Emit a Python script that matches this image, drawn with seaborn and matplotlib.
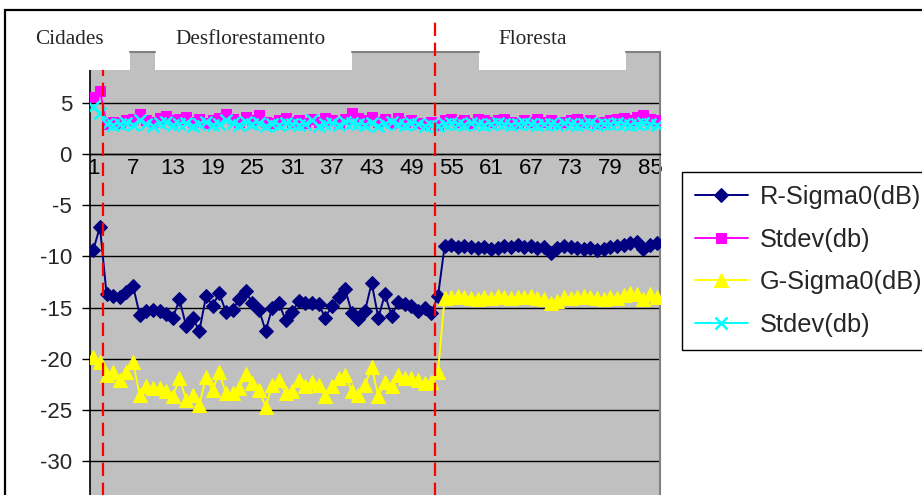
import numpy as np
import pandas as pd
import matplotlib
matplotlib.use("Agg")
import matplotlib.pyplot as plt
from matplotlib.patches import Rectangle
import seaborn as sns

# ---- data -------------------------------------------------------------
samples = list(range(1, 87))

r_sigma0 = [
    -9.35, -7.1,
    -13.7, -13.9, -14.0, -13.5, -12.9, -15.7, -15.3, -15.2, -15.3, -15.6,
    -16.0, -14.2, -16.8, -16.0, -17.3, -13.9, -14.8, -13.6, -15.4, -15.2,
    -14.2, -13.4, -14.6, -15.2, -17.3, -15.0, -14.6, -16.2, -15.4, -14.4,
    -14.6, -14.6, -14.7, -16.0, -14.8, -14.0, -13.2, -15.5, -16.1, -15.3,
    -12.6, -16.0, -13.7, -15.8, -14.5, -14.7, -14.8, -15.3, -15.0, -15.5,
    -13.9,
    -9.0, -8.9, -9.1, -9.0, -9.1, -9.2, -9.1, -9.3, -9.2, -9.0,
    -9.1, -8.9, -9.1, -9.0, -9.2, -9.1, -9.7, -9.2, -9.0, -9.1,
    -9.2, -9.3, -9.2, -9.4, -9.3, -9.1, -9.0, -8.9, -8.7, -8.6,
    -9.3, -8.9, -8.7,
]

r_stdev = [
    5.6, 6.2,
    3.0, 3.2, 3.1, 3.3, 3.4, 3.9, 3.3, 3.2, 3.5, 3.7,
    3.3, 3.4, 3.6, 3.2, 3.4, 3.1, 3.3, 3.5, 3.9, 3.4,
    3.2, 3.6, 3.3, 3.8, 3.2, 3.1, 3.3, 3.5, 3.2, 3.3,
    3.1, 3.4, 3.2, 3.5, 3.3, 3.1, 3.4, 4.0, 3.5, 3.3,
    3.6, 3.2, 3.4, 3.1, 3.5, 3.2, 3.3, 3.1, 3.0, 3.2,
    2.9,
    3.3, 3.4, 3.2, 3.3, 3.1, 3.4, 3.3, 3.2, 3.3, 3.4,
    3.2, 3.1, 3.3, 3.2, 3.4, 3.2, 3.3, 3.1, 3.2, 3.3,
    3.4, 3.2, 3.3, 3.1, 3.2, 3.3, 3.4, 3.5, 3.3, 3.6,
    3.8, 3.4, 3.3,
]

g_sigma0 = [
    -19.8, -20.3,
    -21.6, -21.3, -22.1, -21.3, -20.3, -23.6, -22.7, -22.9, -22.9, -23.2,
    -23.7, -21.9, -24.0, -23.6, -24.5, -21.8, -23.1, -21.3, -23.4, -23.4,
    -22.9, -21.5, -22.4, -23.1, -24.7, -22.6, -22.1, -23.4, -23.2, -22.1,
    -22.7, -22.3, -22.6, -23.7, -22.7, -21.9, -21.6, -23.2, -23.6, -22.6,
    -20.8, -23.7, -22.3, -22.7, -21.6, -21.9, -21.9, -22.1, -22.4, -22.3,
    -21.3,
    -14.1, -14.0, -13.9, -14.0, -14.1, -14.2, -14.0, -14.1, -13.9, -14.0,
    -14.1, -14.0, -14.0, -13.9, -14.1, -14.2, -14.6, -14.4, -14.0, -14.1,
    -14.0, -13.9, -14.0, -14.1, -14.2, -14.0, -14.1, -13.8, -13.6, -13.7,
    -14.2, -13.7, -14.0,
]

g_stdev = [
    4.6, 4.0,
    3.0, 2.9, 3.0, 3.1, 2.9, 3.3, 3.0, 2.8, 3.1, 3.2,
    2.9, 3.0, 3.1, 2.8, 3.0, 3.2, 2.9, 3.0, 3.3, 3.1,
    2.9, 3.2, 3.0, 3.1, 2.8, 3.0, 2.9, 3.1, 3.0, 2.9,
    3.0, 3.3, 2.8, 3.0, 3.1, 2.9, 3.2, 3.1, 3.0, 2.9,
    3.1, 2.8, 3.0, 3.2, 3.0, 2.9, 3.1, 3.0, 2.8, 2.9,
    2.8,
    3.0, 3.1, 3.0, 2.9, 3.1, 3.0, 2.9, 3.0, 3.1, 3.0,
    2.9, 3.0, 3.1, 3.0, 2.9, 3.0, 3.0, 2.9, 3.1, 3.0,
    2.9, 3.0, 3.1, 2.9, 3.0, 3.0, 3.1, 3.0, 2.9, 3.0,
    3.1, 3.0, 2.9,
]

series_names = ["R-Sigma0(dB)", "Stdev(db)", "G-Sigma0(dB)", "Stdev(db)"]
region_labels = ["Cidades", "Desflorestamento", "Floresta"]
region_breaks = [2.5, 52.5]
y_ticks = [5, 0, -5, -10, -15, -20, -25, -30]
x_tick_labels = list(range(1, 87, 6))

for s in (r_sigma0, r_stdev, g_sigma0, g_stdev):
    assert len(s) == len(samples)

# ---- figure -----------------------------------------------------------
sns.set_style("white")
plt.rcParams["font.family"] = ["Liberation Sans", "DejaVu Sans"]

W, H = 922, 495
fig = plt.figure(figsize=(W / 100, H / 100), dpi=100)

# plot area: x 90..660 px, y 52..512 px (lower part runs past the frame)
ax = fig.add_axes([90 / W, 1 - 512 / H, 570 / W, 460 / H])
ax.set_facecolor("#C0C0C0")
ax.set_xlim(0.5, 86.5)
ax.set_ylim(-35, 10)

styles = [
    dict(color="#000080", marker="D", markersize=7.5, markeredgecolor="#000080"),
    dict(color="#FF00FF", marker="s", markersize=6.5, markeredgecolor="#FF00FF"),
    dict(color="#FFFF00", marker="^", markersize=10, markeredgecolor="#FFFF00"),
    dict(color="#00FFFF", marker="x", markersize=8, markeredgewidth=1.8,
         markeredgecolor="#00FFFF"),
]
values = [r_sigma0, r_stdev, g_sigma0, g_stdev]

for name, vals, st in zip(series_names, values, styles):
    df = pd.DataFrame({"sample": samples, "value": vals})
    sns.lineplot(data=df, x="sample", y="value", ax=ax, label=name,
                 estimator=None, sort=False, linewidth=1.4, zorder=3, **st)

ax.set_xlabel("")
ax.set_ylabel("")

# horizontal gridlines
ax.set_yticks(y_ticks)
ax.set_yticklabels([str(v) for v in y_ticks])
ax.yaxis.grid(True, color="black", linewidth=1.0)
ax.xaxis.grid(False)
ax.set_axisbelow(True)

# category axis crossing at zero
ax.spines["bottom"].set_position(("data", 0))
ax.spines["bottom"].set_color("black")
ax.spines["bottom"].set_linewidth(1.0)
ax.spines["top"].set_visible(False)
ax.spines["right"].set_color("#808080")
ax.spines["right"].set_linewidth(1.5)
ax.spines["left"].set_color("black")
ax.spines["left"].set_linewidth(1.2)
ax.spines["left"].set_bounds(-35, 8.25)

ax.set_xticks(x_tick_labels)
ax.set_xticklabels([str(v) for v in x_tick_labels])
ax.set_xticks(np.arange(0.5, 87, 1.0), minor=True)
ax.tick_params(axis="x", which="major", length=0, pad=3, labelsize=16,
               colors="black")
ax.tick_params(axis="x", which="minor", length=6, width=1.0, direction="out",
               color="black")
ax.tick_params(axis="y", which="major", length=6, width=1.0, direction="out",
               pad=7, labelsize=16, color="black", left=True)

# white label strips above the plot area, with gray notches in between
for x0, x1 in [(-0.1, 6.53), (10.31, 40.03), (59.19, 81.37)]:
    ax.add_patch(Rectangle((x0, 8.25), x1 - x0, 2.5,
                           facecolor="white", edgecolor="none",
                           zorder=4, clip_on=False))
for x0, x1 in [(6.53, 10.31), (40.03, 59.19), (81.37, 86.5)]:
    ax.plot([x0, x1], [10, 10], color="#808080", linewidth=1.5,
            zorder=5, clip_on=False)

# region separators
ax.plot([region_breaks[0]] * 2, [-36, 8.25], color="red", linewidth=1.6,
        linestyle=(0, (6, 3)), zorder=6, clip_on=False)
ax.plot([region_breaks[1]] * 2, [-36, 12.9], color="red", linewidth=1.6,
        linestyle=(0, (6, 3)), zorder=6, clip_on=False)

# region titles
for label, px in zip(region_labels, [35, 175, 498]):
    fig.text(px / W, 1 - 40 / H, label, ha="left", va="center",
             fontsize=15.3, family=["Liberation Serif", "DejaVu Serif"])

# legend
handles, labels = ax.get_legend_handles_labels()
leg = ax.legend(handles, labels, loc="upper left",
                bbox_to_anchor=(682 / W, 1 - 172 / H),
                bbox_transform=fig.transFigure, borderaxespad=0,
                frameon=True, fancybox=False, framealpha=1, edgecolor="black",
                fontsize=18.3, numpoints=1, handlelength=2.1,
                handletextpad=0.45, labelspacing=0.74, borderpad=0.5)
leg.get_frame().set_linewidth(1.0)

# outer chart frame
fig.patches.append(Rectangle((5 / W, 1 - 510 / H), 930 / W, 500 / H,
                             transform=fig.transFigure, fill=False,
                             edgecolor="black", linewidth=1.6, zorder=10))

fig.savefig("out.png", dpi=100)
